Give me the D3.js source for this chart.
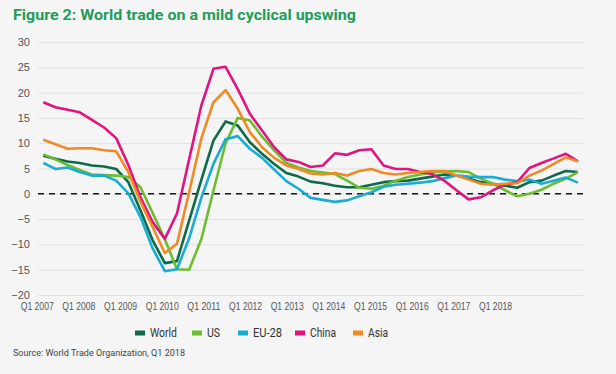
<!DOCTYPE html>
<html>
<head>
<meta charset="utf-8">
<script src="https://cdn.jsdelivr.net/npm/d3@7"></script>
<style>
  body { margin: 0; background: #f5f5f5; }
  svg { display: block; font-family: Roboto, "Noto Sans", sans-serif; }
</style>
</head>
<body>
<div id="chart"></div>
<script>
// year-on-year growth, %, quarterly Q1 2007 .. Q1 2018
var years = d3.range(2007, 2019);
var quarters = [];
years.forEach(function(y) {
  ["Q1", "Q2", "Q3", "Q4"].forEach(function(q) {
    if (y < 2018 || q === "Q1") quarters.push(q + " " + y);
  });
});

var tickLabels = ["Q1 2007", "Q1 2008", "Q1 2009", "Q1 2010", "Q1 2011", "Q1 2012",
  "Q1 2013", "Q1 2014", "Q1 2015", "Q1 2016", "Q1 2017", "Q1 2018"];
var yTicks = [-20, -15, -10, -5, 0, 5, 10, 15, 20, 25, 30];

var seriesNames = ["World", "US", "EU-28", "China", "Asia"];
var seriesColors = ["#0d6b47", "#6cbd2f", "#19acd4", "#e0157f", "#f18a26"];

var world = [7.5, 6.9, 6.4, 6.1, 5.6, 5.4, 4.9, 2.3, -3.3, -9.2, -13.7, -13.3, -5.3, 2.7, 10.5,
  14.3, 13.5, 10.2, 7.9, 5.9, 4.1, 3.4, 2.4, 2.1, 1.6, 1.3, 1.3, 1.8, 2.3, 2.5, 2.6, 3.0, 3.4,
  3.8, 3.6, 3.0, 2.3, 2.0, 1.6, 1.2, 2.3, 2.6, 3.6, 4.5, 4.3];
var us = [7.8, 6.8, 5.7, 4.7, 3.8, 3.7, 3.6, 3.3, 1.3, -3.8, -9.0, -14.9, -15.0, -9.0, 0.6,
  10.0, 15.0, 14.5, 11.3, 8.6, 6.1, 5.2, 4.5, 4.2, 3.9, 2.6, 1.2, 1.0, 1.6, 2.6, 3.3, 3.8, 4.2,
  4.4, 4.5, 4.3, 3.0, 2.0, 0.7, -0.5, 0.0, 0.8, 2.0, 3.0, 4.3];
var eu28 = [6.1, 4.9, 5.2, 4.3, 3.6, 3.6, 2.6, 0.1, -4.6, -10.8, -15.3, -14.9, -8.8, -0.8, 5.9,
  10.8, 11.4, 8.9, 7.1, 4.8, 2.5, 1.0, -0.8, -1.2, -1.6, -1.3, -0.5, 0.3, 1.4, 1.8, 2.0, 2.2,
  2.5, 3.1, 3.6, 3.4, 3.3, 3.3, 2.8, 2.5, 2.8, 2.0, 2.6, 3.2, 2.2];
var china = [18.1, 17.1, 16.6, 16.1, 14.6, 13.1, 11.0, 5.7, -0.7, -5.6, -8.9, -3.9, 6.8, 17.4,
  24.7, 25.1, 20.7, 15.8, 12.5, 9.2, 6.8, 6.3, 5.3, 5.6, 8.0, 7.7, 8.6, 8.8, 5.6, 4.9, 4.9, 4.3,
  3.9, 2.6, 0.7, -1.1, -0.7, 0.7, 1.8, 2.3, 5.1, 6.1, 7.0, 7.9, 6.4];
var asia = [10.7, 9.8, 8.9, 9.0, 9.0, 8.6, 8.4, 4.3, -1.6, -6.6, -11.7, -9.9, 0.3, 10.9, 18.1,
  20.5, 16.8, 12.2, 9.2, 7.1, 5.6, 4.9, 4.0, 3.8, 4.1, 3.6, 4.5, 4.9, 4.1, 3.8, 4.1, 4.3, 4.5,
  4.5, 3.6, 2.8, 2.0, 1.8, 2.0, 2.1, 3.6, 4.6, 5.9, 7.2, 6.4];

var seriesValues = [world, us, eu28, china, asia];

var width = 616, height = 374;

var svg = d3.select("#chart").append("svg")
  .attr("width", width)
  .attr("height", height);

svg.append("rect")
  .attr("width", width).attr("height", height)
  .attr("fill", "#f5f5f5");

// title
svg.append("text")
  .attr("x", 13).attr("y", 20)
  .attr("fill", "#1f9d5b")
  .attr("font-size", 15)
  .attr("font-weight", "bold")
  .attr("textLength", 343)
  .attr("lengthAdjust", "spacingAndGlyphs")
  .text("Figure 2: World trade on a mild cyclical upswing");

var x = d3.scalePoint().domain(quarters).range([43.3, 578]);
// the labels in the original are spread evenly, not on their quarters
var xLabels = d3.scalePoint().domain(tickLabels).range([36.7, 495]);
var y = d3.scaleLinear().domain([-20, 30]).range([295, 42]);

// gridlines + y labels
var yAxis = d3.axisLeft(y)
  .tickValues(yTicks)
  .tickSize(-(583 - 38))
  .tickPadding(8);

var gy = svg.append("g")
  .attr("transform", "translate(38,0)")
  .call(yAxis);
gy.select(".domain").remove();
gy.selectAll(".tick line").attr("stroke", "#e1e1e1").attr("stroke-width", 1);
gy.selectAll(".tick text")
  .attr("fill", "#555")
  .attr("font-size", 11);

// x labels
var xAxis = d3.axisBottom(xLabels).tickSize(0).tickPadding(0);
var gx = svg.append("g")
  .attr("transform", "translate(0,302)")
  .call(xAxis);
gx.select(".domain").remove();
gx.selectAll(".tick text")
  .attr("fill", "#555")
  .attr("font-size", 11.5)
  .attr("dy", "0.71em")
  .attr("textLength", 33)
  .attr("lengthAdjust", "spacingAndGlyphs");

// zero line
svg.append("line")
  .attr("x1", 38).attr("x2", 583)
  .attr("y1", y(0)).attr("y2", y(0))
  .attr("stroke", "#1a1a1a")
  .attr("stroke-width", 1.6)
  .attr("stroke-dasharray", "6,5");

var line = d3.line()
  .x(function(d, i) { return x(quarters[i]); })
  .y(function(d) { return y(d); });

seriesValues.forEach(function(vals, k) {
  svg.append("path")
    .datum(vals)
    .attr("fill", "none")
    .attr("stroke", seriesColors[k])
    .attr("stroke-width", 2.6)
    .attr("stroke-linejoin", "round")
    .attr("d", line);
});

// legend
var legendX = [135, 192, 238, 295, 353];
var legendTextW = [27, 13, 29, 26, 20];
var legend = svg.append("g").attr("transform", "translate(0,333)");
seriesNames.forEach(function(name, k) {
  legend.append("rect")
    .attr("x", legendX[k]).attr("y", -2.5)
    .attr("width", 10).attr("height", 5)
    .attr("fill", seriesColors[k]);
  legend.append("text")
    .attr("x", legendX[k] + 15).attr("y", 0)
    .attr("dy", "0.35em")
    .attr("font-size", 12)
    .attr("fill", "#333")
    .attr("textLength", legendTextW[k])
    .attr("lengthAdjust", "spacingAndGlyphs")
    .text(name);
});

svg.append("text")
  .attr("x", 13).attr("y", 356)
  .attr("font-size", 9.5)
  .attr("fill", "#444")
  .attr("textLength", 172)
  .attr("lengthAdjust", "spacingAndGlyphs")
  .text("Source: World Trade Organization, Q1 2018");
</script>
</body>
</html>
